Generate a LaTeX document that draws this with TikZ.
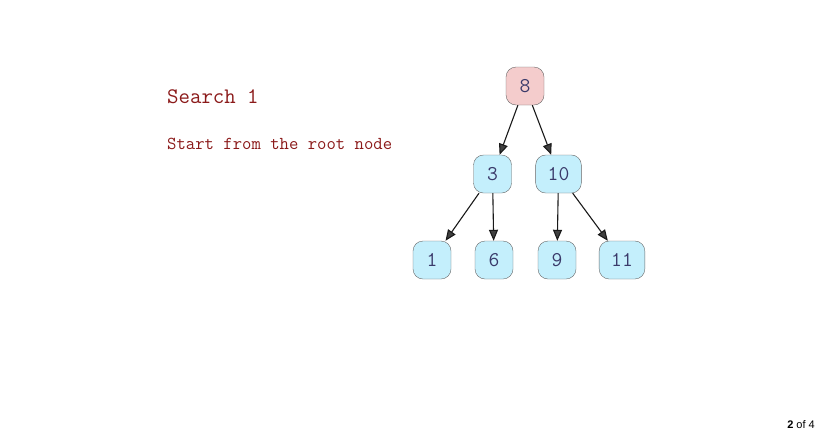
\documentclass[tikz,border=0pt]{standalone}
\usepackage{fontspec}
\usepackage{xcolor}
\usetikzlibrary{arrows.meta,positioning}
\newfontfamily\pagefont{Liberation Sans}
\definecolor{rootfill}{HTML}{F4CCCC}
\definecolor{keyfill}{HTML}{C4EFFC}
\definecolor{titlered}{HTML}{8B1A1A}
\definecolor{keytext}{HTML}{3A3A6A}

\begin{document}
\begin{tikzpicture}[x=1pt,y=-1pt,
		keynode/.style={rectangle, rounded corners=10pt, draw=black!60, fill=keyfill, minimum width=38pt, minimum height=38pt, inner xsep=12pt, inner ysep=0pt, font=\ttfamily\fontsize{21}{24}\selectfont, text=keytext},
		rootnode/.style={keynode, fill=rootfill},
		link/.style={draw=black!90, line width=1.1pt, -{Triangle[length=11pt,width=9pt,fill=black!75]}}]
				\useasboundingbox (0,0) rectangle (824,440);
				\node[anchor=west, inner sep=0pt, text=titlered, font=\ttfamily\fontsize{22.2}{25}\selectfont] (title) at (167,97) {Search 1};
				\node[anchor=west, inner sep=0pt, text=titlered, font=\ttfamily\fontsize{18.2}{21}\selectfont] (step) at (167,144) {Start from the root node};
				
				\node[rootnode] (n8) at (525,86) {8};
				\node[keynode] (n3) at (492.5,174) {3};
				\node[keynode] (n10) at (558.5,174) {10};
				
				\node[keynode] (n1) at (432,260) {1};
				\node[keynode] (n6) at (494,260) {6};
				\node[keynode] (n9) at (557,260) {9};
				\node[keynode] (n11) at (622,260) {11};
				
				\draw[link] (n8) -- (n3);
				\draw[link] (n8) -- (n10);
				\draw[link] (n3) -- (n1);
				\draw[link] (n3) -- (n6);
				\draw[link] (n10) -- (n9);
				\draw[link] (n10) -- (n11);
				
				\node[anchor=east, inner sep=0pt, font=\pagefont\fontsize{11}{13}\selectfont] (page) at (815,425) {\textbf{2} of 4};
			\end{tikzpicture}
\end{document}
